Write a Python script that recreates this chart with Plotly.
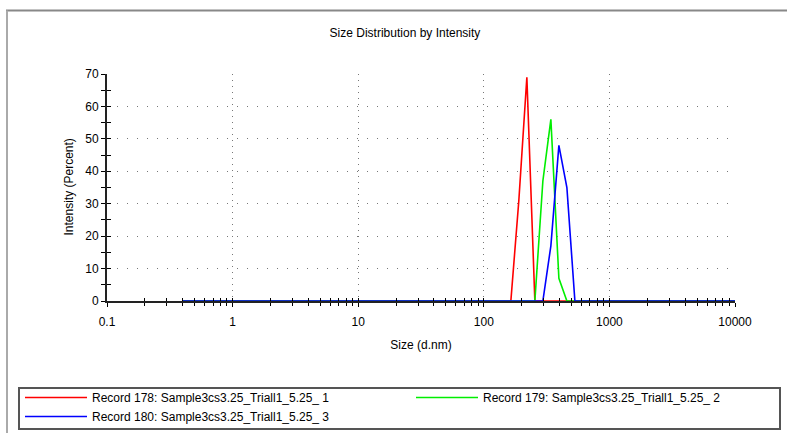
import plotly.graph_objects as go

# Size bins (d.nm)
sizes = [0.4, 0.4632, 0.5365, 0.6213, 0.7195, 0.8332, 0.9649, 1.117, 1.294, 1.499,
         1.736, 2.01, 2.328, 2.696, 3.122, 3.615, 4.187, 4.849, 5.615, 6.503,
         7.531, 8.721, 10.1, 11.7, 13.54, 15.69, 18.17, 21.04, 24.36, 28.21,
         32.67, 37.84, 43.82, 50.75, 58.77, 68.06, 78.82, 91.28, 105.7, 122.4,
         141.8, 164.2, 190.1, 220.2, 255.0, 295.3, 342.0, 396.1, 458.7, 531.2,
         615.1, 712.4, 825.0, 955.4, 1106, 1281, 1484, 1718, 1990, 2305,
         2669, 3091, 3580, 4145, 4801, 5560, 6439, 7456, 8635, 10000]

# Intensity values (percent), one per size bin
rec178 = [0]*41 + [0, 31, 69, 0] + [0]*25
rec179 = [0]*41 + [0, 0, 0, 0, 37, 56, 7, 0] + [0]*21
rec180 = [0]*41 + [0, 0, 0, 0, 0, 17, 48, 35, 0] + [0]*20

names = ["Record 178: Sample3cs3.25_Triall1_5.25_ 1",
         "Record 179: Sample3cs3.25_Triall1_5.25_ 2",
         "Record 180: Sample3cs3.25_Triall1_5.25_ 3"]
colors = ["#ff0000", "#00ee00", "#0000ff"]
legend_ids = ["legend", "legend2", "legend"]

y_major = [0, 10, 20, 30, 40, 50, 60, 70]
y_all = [0, 5, 10, 15, 20, 25, 30, 35, 40, 45, 50, 55, 60, 65, 70]
x_major = [0.1, 1, 10, 100, 1000, 10000]
x_major_text = ["0.1", "1", "10", "100", "1000", "10000"]
x_minor = [m * d for d in [0.1, 1, 10, 100, 1000] for m in range(2, 10)]

FONT = "Liberation Sans, Arial, sans-serif"

fig = go.Figure()
for vals, nm, col, lg in zip([rec178, rec179, rec180], names, colors, legend_ids):
    fig.add_trace(go.Scatter(x=sizes, y=vals, mode="lines", name=nm, legend=lg,
                             line=dict(color=col, width=1.6)))
# invisible trace to activate overlay axes (used for crossing tick marks)
fig.add_trace(go.Scatter(x=[sizes[0]], y=[0], xaxis="x2", yaxis="y2", mode="markers",
                         marker=dict(opacity=0), showlegend=False, hoverinfo="skip"))

legend_common = dict(orientation="v", xref="container", yref="container",
                     xanchor="left", yanchor="top", itemwidth=62,
                     borderwidth=0, bgcolor="rgba(0,0,0,0)",
                     font=dict(size=12, color="#000"), traceorder="normal")

# pixel -> paper helpers for decorations
def px_x(p):
    return (p - 107) / 628

def px_y(p):
    return (301 - p) / 227

fig.update_layout(
    width=787, height=433,
    margin=dict(l=107, r=52, t=74, b=132, autoexpand=False),
    paper_bgcolor="white", plot_bgcolor="white",
    font=dict(family=FONT, size=12, color="#000"),
    title=dict(text="Size Distribution by Intensity", xref="container", x=0.5146,
               xanchor="center", yref="container", y=1 - 33/433, yanchor="middle",
               font=dict(size=12, color="#000")),
    xaxis=dict(type="log", range=[-1, 4], tickvals=x_major, ticktext=x_major_text,
               ticks="outside", ticklen=4, tickwidth=1, tickcolor="#000",
               ticklabelstandoff=5,
               showline=True, linecolor="#222", linewidth=2,
               showgrid=True, gridcolor="#777", gridwidth=1, griddash="1px,5px",
               zeroline=False,
               minor=dict(tickvals=x_minor, ticks="outside", ticklen=3, tickcolor="#000",
                          showgrid=False),
               title=dict(text="Size (d.nm)", standoff=12, font=dict(size=12)),
               tickfont=dict(size=12, color="#000")),
    yaxis=dict(range=[0, 70], tickvals=y_major,
               ticks="outside", ticklen=4, tickwidth=1, tickcolor="#000",
               showline=True, linecolor="#222", linewidth=2,
               showgrid=True, gridcolor="#777", gridwidth=1, griddash="1px,9px",
               zeroline=False,
               minor=dict(dtick=5, ticks="outside", ticklen=4, tickcolor="#000",
                          showgrid=False),
               tickfont=dict(size=12, color="#000")),
    xaxis2=dict(type="log", range=[-1, 4], overlaying="x", anchor="y2",
                tickvals=x_major + x_minor, ticks="inside", ticklen=3, tickcolor="#000",
                showticklabels=False, showgrid=False, zeroline=False, showline=False),
    yaxis2=dict(range=[0, 70], overlaying="y", anchor="x2",
                tickvals=y_all, ticks="inside", ticklen=4, tickcolor="#000",
                showticklabels=False, showgrid=False, zeroline=False, showline=False),
    legend=dict(x=20/787, y=1 - 383/433, **legend_common),
    legend2=dict(x=411/787, y=1 - 383/433, **legend_common),
    showlegend=True,
)

# y-axis title as a rotated annotation
fig.add_annotation(text="Intensity (Percent)", xref="paper", yref="paper",
                   x=px_x(68), y=0.5, textangle=-90, showarrow=False,
                   xanchor="center", yanchor="middle",
                   font=dict(size=12, color="#000", family=FONT))

fig.add_shape(type="line", xref="paper", yref="paper",
              x0=px_x(6), x1=px_x(790), y0=px_y(10.5), y1=px_y(10.5),
              line=dict(color="#888", width=2))
fig.add_shape(type="line", xref="paper", yref="paper",
              x0=px_x(7), x1=px_x(7), y0=px_y(10.5), y1=px_y(440),
              line=dict(color="#aaa", width=2))
fig.add_shape(type="rect", xref="paper", yref="paper",
              x0=px_x(19), x1=px_x(780), y0=px_y(388), y1=px_y(429),
              line=dict(color="#555", width=2), fillcolor="rgba(0,0,0,0)")

fig.write_html("out.html")
